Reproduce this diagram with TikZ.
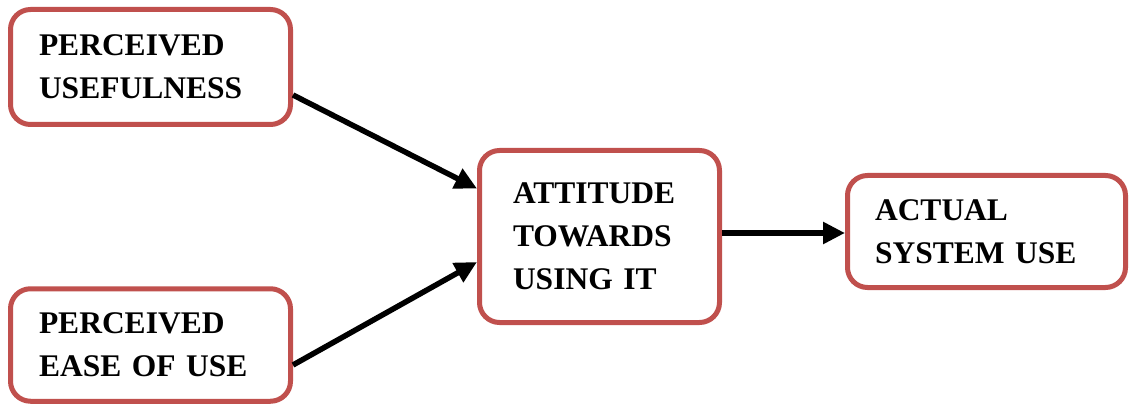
\documentclass[tikz,border=0pt]{standalone}
\usepackage{fontspec}
\setmainfont{Liberation Serif}
\usetikzlibrary{arrows.meta}
\definecolor{boxred}{HTML}{C0504D}
\tikzset{
  box/.style={draw=boxred, line width=5pt, rounded corners=20pt, fill=white,
    align=left, inner ysep=0pt,
    font=\fontsize{31.5}{43}\selectfont\bfseries},
  conn/.style={line width=5.5pt, -{Triangle[length=22pt,width=21pt]}}
}
\begin{document}
\begin{tikzpicture}[x=1pt,y=-1pt]
\useasboundingbox (0,0) rectangle (1130,406);
\node[box, minimum height=115pt, inner xsep=28.5pt, text width=223pt] (pu) at (150.5,67) {PERCEIVED\\USEFULNESS};
\node[box, minimum height=112.5pt, inner xsep=28.5pt, text width=223pt] (peou) at (150.5,345) {PERCEIVED\\EASE OF USE};
\node[box, minimum height=172pt, inner xsep=33.5pt, text width=173pt] (att) at (599.5,236.5) {ATTITUDE\\TOWARDS\\USING IT};
\node[box, minimum height=112pt, inner xsep=27.5pt, text width=223pt] (asu) at (986.5,231.5) {ACTUAL\\SYSTEM USE};
\draw[conn] ([yshift=-28pt]pu.east) -- ([yshift=48pt]att.west);
\draw[conn] ([yshift=-20pt]peou.east) -- ([yshift=-25.5pt]att.west);
\draw[conn] ([yshift=3.5pt]att.east) -- ([yshift=-1.5pt]asu.west);
\end{tikzpicture}
\end{document}
